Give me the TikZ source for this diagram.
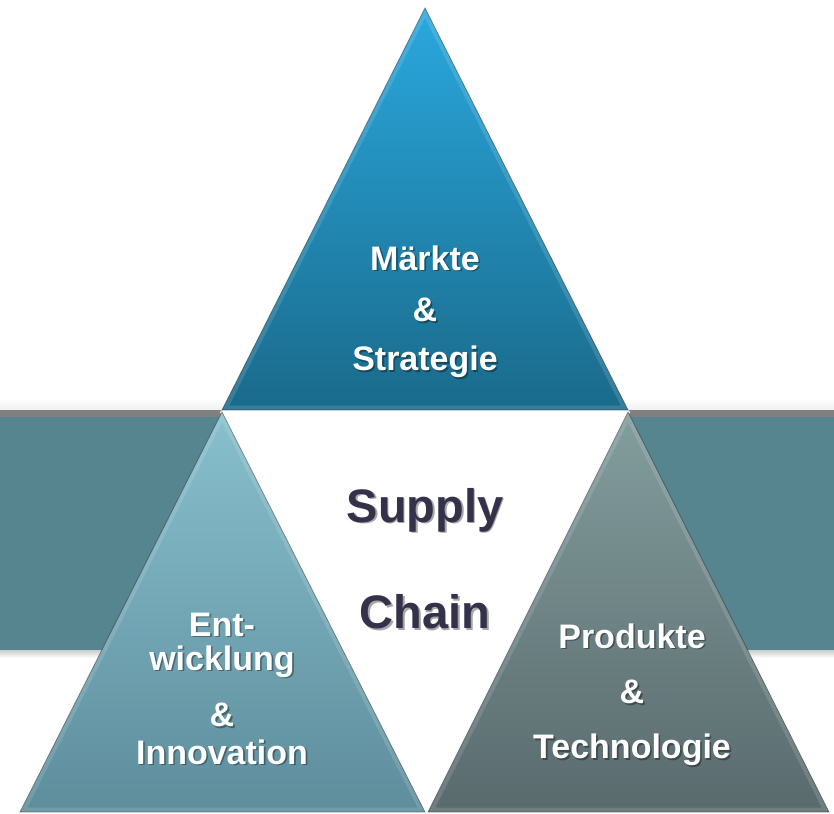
\documentclass[tikz,border=0pt]{standalone}
\usepackage{fontspec}
\setmainfont{Liberation Sans}
\definecolor{band}{HTML}{56858F}
\definecolor{bandtop}{HTML}{808080}
\definecolor{topA}{HTML}{2AA8DE}
\definecolor{topB}{HTML}{1A6A8A}
\definecolor{leftA}{HTML}{88C0CD}
\definecolor{leftB}{HTML}{5E8D9C}
\definecolor{rightA}{HTML}{839D9D}
\definecolor{rightB}{HTML}{596A6D}
\definecolor{scText}{HTML}{34324A}
\tikzset{
  lbl/.style={font=\bfseries\fontsize{34}{34}\selectfont, text=white, inner sep=0pt, anchor=center, align=center},
  biglbl/.style={font=\bfseries\fontsize{47}{54}\selectfont, text=scText, inner sep=0pt, anchor=center},
  shadowlbl/.style={text=black, opacity=0.35},
  bevel/.style={white, opacity=0.13, line width=9pt},
  edge/.style={black, opacity=0.35, line width=0.8pt}
}
\newcommand\mylabel[4]{%
  \node[#1, shadowlbl] at ([xshift=1.6pt,yshift=-1.6pt]#3) {#4};
  \node[#1] (#2) at (#3) {#4};
}
\begin{document}
\begin{tikzpicture}[x=1pt,y=-1pt]
\useasboundingbox (0,0) rectangle (834,813);
\fill[white] (0,0) rectangle (834,813);
% band
\shade[top color=white, bottom color=black!6] (0,398) rectangle (834,410);
\fill[bandtop] (0,410) rectangle (834,417);
\fill[band] (0,417) rectangle (834,650);
\shade[top color=black!20, bottom color=white] (0,650) rectangle (834,658);
% middle white
\fill[white] (222,410) -- (628,410) -- (630,412) -- (430,813) -- (423,813) -- (220,412) -- cycle;
% coordinates
\coordinate (T1) at (425,8);
\coordinate (T2) at (628,410);
\coordinate (T3) at (222,410);
\coordinate (L1) at (222,412);
\coordinate (L2) at (425,812);
\coordinate (L3) at (20,812);
\coordinate (R1) at (628,412);
\coordinate (R2) at (829,812);
\coordinate (R3) at (428,812);
% top triangle
\shade[top color=topA, bottom color=topB] (T1) -- (T2) -- (T3) -- cycle;
\begin{scope}
\clip (T1) -- (T2) -- (T3) -- cycle;
\draw[bevel] (T1) -- (T2) -- (T3) -- cycle;
\end{scope}
\draw[edge] (T1) -- (T2) -- (T3) -- cycle;
% left triangle
\shade[top color=leftA, bottom color=leftB] (L1) -- (L2) -- (L3) -- cycle;
\begin{scope}
\clip (L1) -- (L2) -- (L3) -- cycle;
\draw[bevel] (L1) -- (L2) -- (L3) -- cycle;
\end{scope}
\draw[edge] (L1) -- (L2) -- (L3) -- cycle;
% right triangle
\shade[top color=rightA, bottom color=rightB] (R1) -- (R2) -- (R3) -- cycle;
\begin{scope}
\clip (R1) -- (R2) -- (R3) -- cycle;
\draw[bevel] (R1) -- (R2) -- (R3) -- cycle;
\end{scope}
\draw[edge] (R1) -- (R2) -- (R3) -- cycle;
% texts
\mylabel{lbl}{m1}{425,258}{Märkte}
\mylabel{lbl}{m2}{425,310}{\&}
\mylabel{lbl}{m3}{425,362}{Strategie}
\mylabel{biglbl}{s1}{425,510}{Supply}
\mylabel{biglbl}{s2}{425,612}{Chain}
\mylabel{lbl}{e1}{222,645}{Ent-\\wicklung}
\mylabel{lbl}{e3}{222,715}{\&}
\mylabel{lbl}{e4}{222,752}{Innovation}
\mylabel{lbl}{p1}{632,636}{Produkte}
\mylabel{lbl}{p2}{632,692}{\&}
\mylabel{lbl}{p3}{632,750}{Technologie}
\end{tikzpicture}
\end{document}
